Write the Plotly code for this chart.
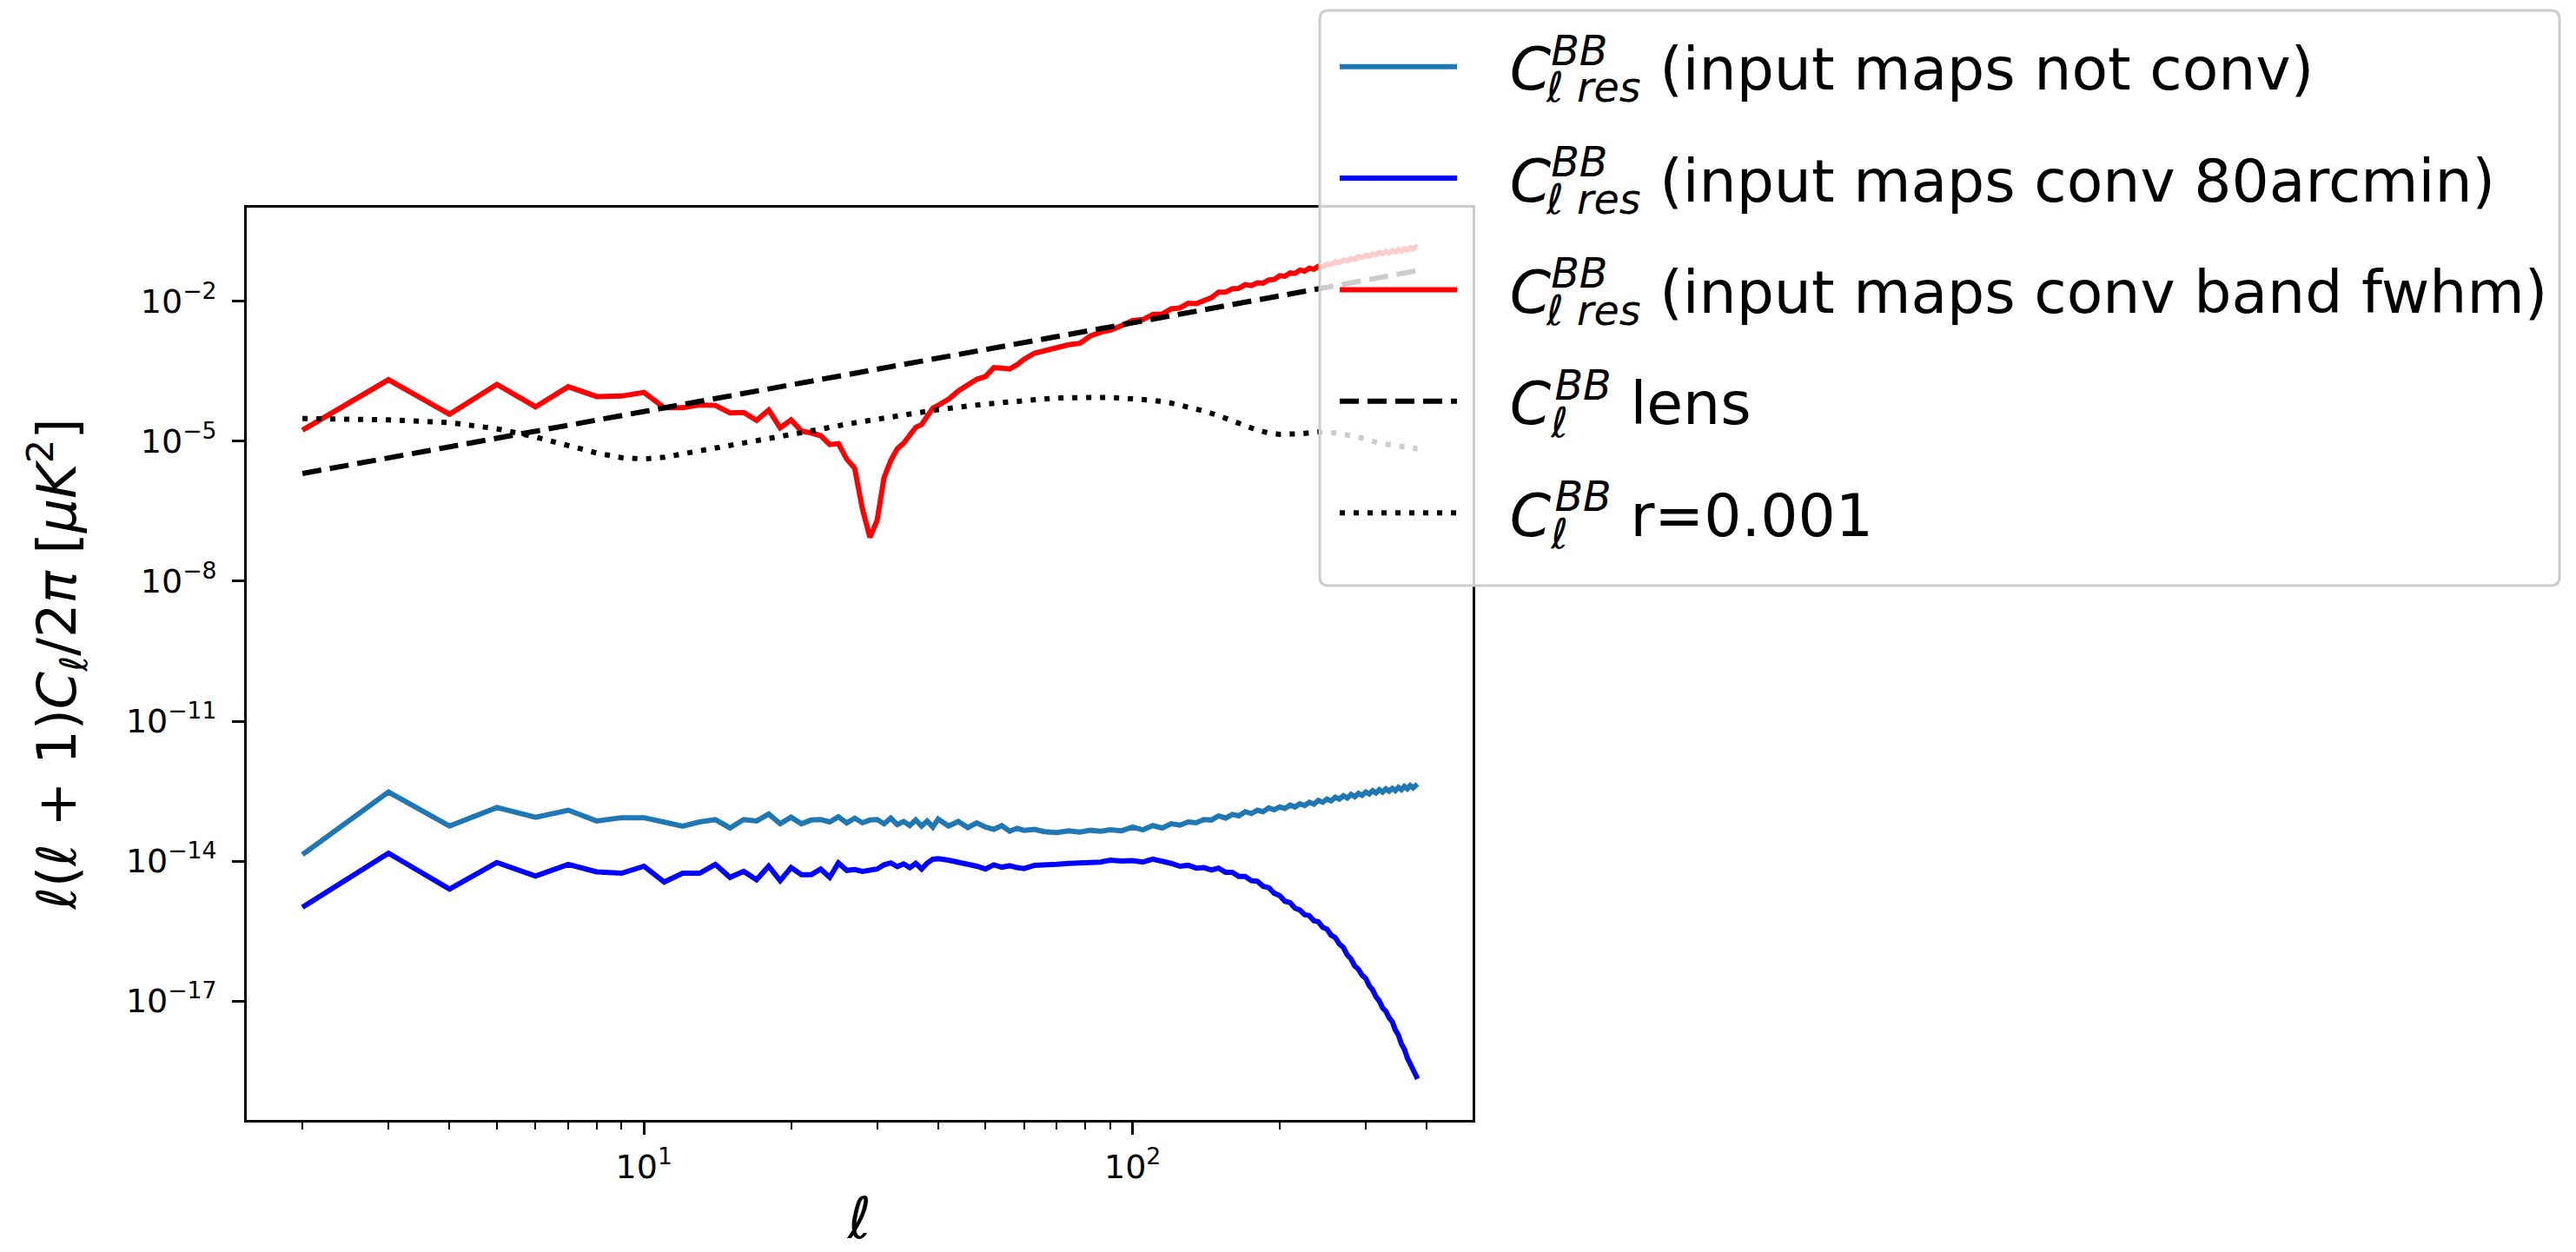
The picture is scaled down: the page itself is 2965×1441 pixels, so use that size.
import plotly.graph_objects as go

# multipoles of the residual spectra
ell_res = (list(range(2, 41))
           + [42, 44, 46, 48, 50, 52, 54, 56, 58, 60]
           + [63, 66, 70, 74, 78, 82, 86, 90, 95]
           + list(range(100, 381, 5)) + [383])

# log10 of l(l+1)C_l/2pi for each residual
log_not_conv = [-13.86, -12.52, -13.25, -12.85, -13.06, -12.91, -13.14, -13.07, -13.07, -13.16,
                -13.25, -13.16, -13.11, -13.29, -13.11, -13.14, -12.99, -13.20, -13.06, -13.20,
                -13.12, -13.11, -13.16, -13.05, -13.18, -13.08, -13.18, -13.12, -13.11, -13.20,
                -13.08, -13.22, -13.15, -13.24, -13.12, -13.25, -13.14, -13.27, -13.10,
                -13.25, -13.15, -13.28, -13.18, -13.27, -13.32, -13.24, -13.36, -13.30, -13.34,
                -13.32, -13.37, -13.39, -13.35, -13.38, -13.34, -13.36, -13.33, -13.35,
                -13.27, -13.33, -13.24, -13.29, -13.20, -13.23, -13.16, -13.18, -13.11, -13.12,
                -13.03, -13.08, -13.00, -13.03, -12.94, -12.98, -12.91, -12.94, -12.86, -12.90,
                -12.84, -12.87, -12.80, -12.84, -12.77, -12.81, -12.74, -12.78, -12.70, -12.74,
                -12.67, -12.71, -12.63, -12.67, -12.60, -12.65, -12.57, -12.62, -12.55, -12.59,
                -12.52, -12.56, -12.49, -12.54, -12.47, -12.52, -12.45, -12.50, -12.44, -12.49,
                -12.42, -12.47, -12.40, -12.45, -12.38, -12.43, -12.36, -12.35]

log_conv_80 = [-14.99, -13.83, -14.60, -14.03, -14.32, -14.07, -14.23, -14.26, -14.11, -14.45,
               -14.26, -14.26, -14.07, -14.35, -14.22, -14.40, -14.11, -14.42, -14.14, -14.29,
               -14.29, -14.17, -14.35, -14.04, -14.20, -14.18, -14.22, -14.20, -14.17, -14.08,
               -14.04, -14.12, -14.06, -14.14, -14.05, -14.17, -14.04, -13.96, -13.95,
               -13.98, -14.02, -14.05, -14.11, -14.17, -14.08, -14.13, -14.10, -14.14, -14.16,
               -14.09, -14.07, -14.07, -14.05, -14.04, -14.01, -14.02, -13.98, -14.00,
               -13.99, -14.02, -13.96, -14.00, -14.05, -14.11, -14.09, -14.15, -14.14, -14.19,
               -14.15, -14.24, -14.24, -14.33, -14.33, -14.42, -14.43, -14.54, -14.57, -14.69,
               -14.74, -14.86, -14.89, -15.01, -15.05, -15.15, -15.17, -15.28, -15.30, -15.42,
               -15.46, -15.59, -15.64, -15.78, -15.85, -16.01, -16.10, -16.25, -16.32, -16.45,
               -16.51, -16.67, -16.76, -16.91, -17.00, -17.15, -17.22, -17.36, -17.44, -17.62,
               -17.73, -17.92, -18.03, -18.22, -18.33, -18.48, -18.59, -18.67]

log_conv_band = [-4.76, -3.68, -4.42, -3.78, -4.26, -3.83, -4.04, -4.03, -3.95, -4.28,
                 -4.28, -4.22, -4.23, -4.39, -4.38, -4.55, -4.33, -4.71, -4.54, -4.78,
                 -4.82, -4.88, -5.07, -5.05, -5.38, -5.58, -6.45, -7.06, -6.70, -5.78,
                 -5.41, -5.16, -5.04, -4.85, -4.70, -4.64, -4.48, -4.29, -4.23,
                 -4.10, -3.92, -3.80, -3.67, -3.61, -3.42, -3.43, -3.45, -3.36, -3.24,
                 -3.11, -3.05, -2.99, -2.93, -2.90, -2.74, -2.66, -2.62, -2.52,
                 -2.41, -2.39, -2.28, -2.27, -2.16, -2.14, -2.04, -2.05, -1.97, -1.92,
                 -1.80, -1.80, -1.73, -1.72, -1.64, -1.66, -1.60, -1.61, -1.54, -1.53,
                 -1.45, -1.46, -1.39, -1.40, -1.33, -1.35, -1.29, -1.31, -1.25, -1.26,
                 -1.20, -1.21, -1.15, -1.17, -1.11, -1.13, -1.08, -1.10, -1.04, -1.06,
                 -1.01, -1.03, -0.98, -1.00, -0.95, -0.98, -0.93, -0.96, -0.91, -0.94,
                 -0.89, -0.92, -0.87, -0.90, -0.85, -0.88, -0.83, -0.84]

# theory spectra
ell_lens = [2, 10, 30, 100, 383]
log_lens = [-5.69, -4.37, -3.45, -2.46, -1.34]

ell_tens = [2, 3, 4, 5, 6, 7, 8, 9, 10, 11, 12, 14, 16, 18, 20, 23, 26, 30, 35, 40,
            50, 60, 70, 80, 90, 100, 110, 120, 130, 140, 150, 160, 170, 180, 190, 200,
            220, 240, 260, 290, 320, 350, 383]
log_tens = [-4.51, -4.54, -4.60, -4.73, -4.91, -5.10, -5.25, -5.35, -5.38, -5.34,
            -5.27, -5.16, -5.05, -4.94, -4.85, -4.74, -4.63, -4.53, -4.43, -4.32,
            -4.20, -4.12, -4.07, -4.06, -4.06, -4.09, -4.12, -4.18, -4.26, -4.35,
            -4.45, -4.57, -4.68, -4.76, -4.82, -4.85, -4.84, -4.80, -4.82, -4.91,
            -5.04, -5.10, -5.16]

legend_suffix = ["res", "res", "res", "", ""]
legend_desc = ["(input maps not conv)", "(input maps conv 80arcmin)",
               "(input maps conv band fwhm)", "lens", "r=0.001"]

y_tickvals = [1e-17, 1e-14, 1e-11, 1e-8, 1e-5, 1e-2]
y_ticktext = ["10<sup>−17</sup>", "10<sup>−14</sup>", "10<sup>−11</sup>",
              "10<sup>−8</sup>", "10<sup>−5</sup>", "10<sup>−2</sup>"]
x_tickvals = [10, 100]
x_ticktext = ["10<sup>1</sup>", "10<sup>2</sup>"]
x_minor = [2, 3, 4, 5, 6, 7, 8, 9, 20, 30, 40, 50, 60, 70, 80, 90, 200, 300, 400]

for arr in (log_not_conv, log_conv_80, log_conv_band):
    assert len(arr) == len(ell_res)


def pow10(vals):
    return [10.0 ** v for v in vals]


def spacer(px):
    # a no-break space whose advance is widened (or pulled back) by px
    return f'<span style="letter-spacing:{px}px">\u00a0</span>'


def legend_label(sub, desc):
    # C with BB stacked over the subscript; text resumes after the wider script
    if sub:
        scripts = ("<sup><i>BB</i></sup>" + spacer(-92)
                   + f"<sub><i>ℓ {sub}</i></sub>")
    else:
        scripts = ("<sub><i>ℓ</i></sub>" + spacer(-37)
                   + "<sup><i>BB</i></sup>")
    return spacer(34) + "<i>C</i>" + scripts + " " + desc


FONT = "DejaVu Sans"
LW = 6

fig = go.Figure()
series = [
    (ell_res, log_not_conv, "#1f77b4", "solid"),
    (ell_res, log_conv_80, "#0000ff", "solid"),
    (ell_res, log_conv_band, "#ff0000", "solid"),
    (ell_lens, log_lens, "#000000", "22px,10px"),
    (ell_tens, log_tens, "#000000", "6px,10px"),
]
for i, (xs, ys, col, dash) in enumerate(series):
    fig.add_trace(go.Scatter(
        x=xs, y=pow10(ys), mode="lines",
        name=legend_label(legend_suffix[i], legend_desc[i]),
        legendgroup=f"g{i}",
        line=dict(color=col, width=LW, dash=dash),
    ))

axis_common = dict(
    type="log", showgrid=False, zeroline=False,
    showline=True, mirror=True, linecolor="black", linewidth=3,
    ticks="outside", ticklen=14, tickwidth=3, tickcolor="black",
    tickfont=dict(family=FONT, size=38, color="black"),
)

fig.update_xaxes(
    **axis_common,
    range=[0.187, 2.696],
    tickmode="array", tickvals=x_tickvals, ticktext=x_ticktext,
    ticklabelstandoff=4,
    minor=dict(tickmode="array", tickvals=x_minor, ticks="outside",
               ticklen=8, tickwidth=2.4, tickcolor="black"),
    title=dict(text="<i>ℓ</i>", font=dict(family=FONT, size=66, color="black"),
               standoff=22),
)
fig.update_yaxes(
    **axis_common,
    range=[-19.55, 0.01],
    tickmode="array", tickvals=y_tickvals, ticktext=y_ticktext,
    ticklabelstandoff=10,
    title=dict(text="<i>ℓ</i>(<i>ℓ</i> + 1)<i>C</i><sub><i>ℓ</i></sub>/2<i>π</i> [<i>μK</i><sup>2</sup>]",
               font=dict(family=FONT, size=62, color="black"), standoff=38),
)

# legend frame (semi-transparent, rounded) drawn behind the legend entries
x0, x1, y0, y1 = 0.8753, 1.8866, 0.5857, 1.2162
rx, ry = 10 / 1411, 10 / 1050
frame = (f"M{x0 + rx},{y1} L{x1 - rx},{y1} Q{x1},{y1} {x1},{y1 - ry} "
         f"L{x1},{y0 + ry} Q{x1},{y0} {x1 - rx},{y0} L{x0 + rx},{y0} "
         f"Q{x0},{y0} {x0},{y0 + ry} L{x0},{y1 - ry} Q{x0},{y1} {x0 + rx},{y1} Z")

fig.update_layout(
    width=2965, height=1441,
    margin=dict(l=284, r=1270, t=239, b=152, autoexpand=False),
    paper_bgcolor="white", plot_bgcolor="white",
    font=dict(family=FONT, color="black"),
    showlegend=True,
    legend=dict(
        x=0.8753, y=1.2029, xanchor="left", yanchor="top",
        bgcolor="rgba(0,0,0,0)", borderwidth=0,
        font=dict(family=FONT, size=68, color="black"),
        itemwidth=135, indentation=18, tracegroupgap=37, itemclick=False,
    ),
    shapes=[dict(type="path", xref="paper", yref="paper", path=frame,
                 fillcolor="rgba(255,255,255,0.8)",
                 line=dict(color="#cccccc", width=3), layer="above")],
)

fig.write_html("out.html")
